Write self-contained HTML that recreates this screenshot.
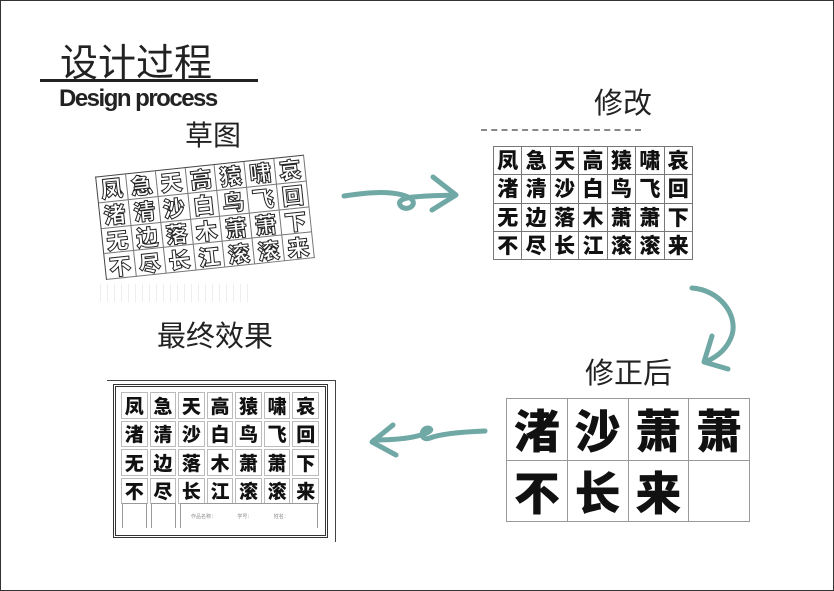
<!DOCTYPE html>
<html><head><meta charset="utf-8"><style>
*{margin:0;padding:0;box-sizing:border-box}
body{width:834px;height:591px;background:#fff;position:relative;overflow:hidden;font-family:"Liberation Sans","Noto Sans CJK SC",sans-serif}
.frame{position:absolute;left:0;top:0;width:834px;height:591px;border:1.5px solid #333}
.t{position:absolute;color:#222;white-space:nowrap}
.g{position:absolute;display:grid;border-left:1px solid #777;border-top:1px solid #777}
.g span{border-right:1px solid #777;border-bottom:1px solid #777;display:flex;align-items:center;justify-content:center;font-family:"Noto Sans CJK SC",sans-serif;font-weight:900;color:#111;line-height:1}
.s span{font-size:22px;color:#fff;-webkit-text-stroke:1px #222}
.c{border:1px solid #bbb;display:flex;align-items:center;justify-content:center;font-family:"Noto Sans CJK SC",sans-serif;font-weight:900;font-size:19px;color:#111;line-height:1}
</style></head><body>
<div class="frame"></div>
<div class="t" style="left:60px;top:32px;font-size:38px;font-family:'Noto Sans CJK SC',sans-serif;">设计过程</div>
<div style="position:absolute;left:40px;top:79px;width:218px;height:3px;background:#222"></div>
<div class="t" style="left:59px;top:85px;font-size:24px;font-weight:bold;letter-spacing:-1.5px;">Design process</div>
<div class="t" style="left:185px;top:114px;font-size:28px;font-family:'Noto Sans CJK SC',sans-serif;">草图</div>
<div class="t" style="left:594px;top:80px;font-size:29px;font-family:'Noto Sans CJK SC',sans-serif;">修改</div>
<div class="t" style="left:157px;top:313px;font-size:29px;font-family:'Noto Sans CJK SC',sans-serif;">最终效果</div>
<div class="t" style="left:585px;top:350px;font-size:29px;font-family:'Noto Sans CJK SC',sans-serif;">修正后</div>

<!-- sketch -->
<div class="g s" style="left:106px;top:176px;width:210px;height:104px;grid-template-columns:repeat(7,1fr);grid-template-rows:repeat(4,1fr);transform:rotate(-6deg);transform-origin:0 100%;border-color:#444">
<span>凤</span><span>急</span><span>天</span><span>高</span><span>猿</span><span>啸</span><span>哀</span>
<span>渚</span><span>清</span><span>沙</span><span>白</span><span>鸟</span><span>飞</span><span>回</span>
<span>无</span><span>边</span><span>落</span><span>木</span><span>萧</span><span>萧</span><span>下</span>
<span>不</span><span>尽</span><span>长</span><span>江</span><span>滚</span><span>滚</span><span>来</span>
</div>
<div style="position:absolute;left:100px;top:284px;width:150px;height:18px;background:repeating-linear-gradient(90deg,#ddd 0 1px,transparent 1px 7px);opacity:.5"></div>

<!-- modified -->
<div style="position:absolute;left:481px;top:129px;width:160px;height:3px;border-top:2px dashed #888"></div>
<div class="g" style="left:493px;top:146px;width:200px;height:114px;grid-template-columns:repeat(7,1fr);grid-template-rows:repeat(4,1fr)">
<span style="font-size:21px">凤</span><span style="font-size:21px">急</span><span style="font-size:21px">天</span><span style="font-size:21px">高</span><span style="font-size:21px">猿</span><span style="font-size:21px">啸</span><span style="font-size:21px">哀</span>
<span style="font-size:21px">渚</span><span style="font-size:21px">清</span><span style="font-size:21px">沙</span><span style="font-size:21px">白</span><span style="font-size:21px">鸟</span><span style="font-size:21px">飞</span><span style="font-size:21px">回</span>
<span style="font-size:21px">无</span><span style="font-size:21px">边</span><span style="font-size:21px">落</span><span style="font-size:21px">木</span><span style="font-size:21px">萧</span><span style="font-size:21px">萧</span><span style="font-size:21px">下</span>
<span style="font-size:21px">不</span><span style="font-size:21px">尽</span><span style="font-size:21px">长</span><span style="font-size:21px">江</span><span style="font-size:21px">滚</span><span style="font-size:21px">滚</span><span style="font-size:21px">来</span>
</div>

<!-- final -->
<div style="position:absolute;left:107px;top:380px;width:229px;height:162px;border-top:1.5px solid #444;border-right:1.5px solid #444"></div>
<div style="position:absolute;left:113px;top:384px;width:215px;height:154px;border:3px double #333"></div>
<div style="position:absolute;left:121px;top:392px;width:198px;display:grid;grid-template-columns:repeat(7,1fr);grid-template-rows:repeat(4,26.5px);gap:2px">
<span class="c">凤</span><span class="c">急</span><span class="c">天</span><span class="c">高</span><span class="c">猿</span><span class="c">啸</span><span class="c">哀</span>
<span class="c">渚</span><span class="c">清</span><span class="c">沙</span><span class="c">白</span><span class="c">鸟</span><span class="c">飞</span><span class="c">回</span>
<span class="c">无</span><span class="c">边</span><span class="c">落</span><span class="c">木</span><span class="c">萧</span><span class="c">萧</span><span class="c">下</span>
<span class="c">不</span><span class="c">尽</span><span class="c">长</span><span class="c">江</span><span class="c">滚</span><span class="c">滚</span><span class="c">来</span>
</div>
<div style="position:absolute;left:122px;top:503px;width:25px;height:25px;border:1px solid #999;border-bottom:none"></div>
<div style="position:absolute;left:151px;top:503px;width:25px;height:25px;border:1px solid #999;border-bottom:none"></div>
<div style="position:absolute;left:180px;top:503px;width:138px;height:25px;border:1px solid #999;border-bottom:none;font-size:5px;color:#888;padding:9px 10px;word-spacing:20px">作品名称： 学号： 姓名：</div>

<!-- corrected -->
<div class="g" style="left:506px;top:398px;width:244px;height:124px;grid-template-columns:repeat(4,1fr);grid-template-rows:repeat(2,1fr);border-color:#999">
<span style="font-size:46px;border-color:#999">渚</span><span style="font-size:46px;border-color:#999">沙</span><span style="font-size:46px;border-color:#999">萧</span><span style="font-size:46px;border-color:#999">萧</span>
<span style="font-size:46px;border-color:#999">不</span><span style="font-size:46px;border-color:#999">长</span><span style="font-size:46px;border-color:#999">来</span><span style="border-color:#999"></span>
</div>

<!-- arrows -->
<svg width="834" height="591" style="position:absolute;left:0;top:0" fill="none" stroke="#6fa8a4" stroke-width="5" stroke-linecap="round" stroke-linejoin="round">
<path d="M344 196 C370 192 395 190 410 198 C420 205 405 213 400 205 C396 196 420 196 455 195"/>
<path d="M433 177 L456 195 L432 210"/>
<path d="M692 288 C720 290 738 315 732 335 C727 350 715 358 705 362"/>
<path d="M712 336 L704 362 L728 369"/>
<path d="M485 431 C460 432 440 434 430 438 C420 442 420 428 428 428 C438 430 420 440 374 440"/>
<path d="M393 425 L372 442 L396 455"/>
</svg>
</body></html>
